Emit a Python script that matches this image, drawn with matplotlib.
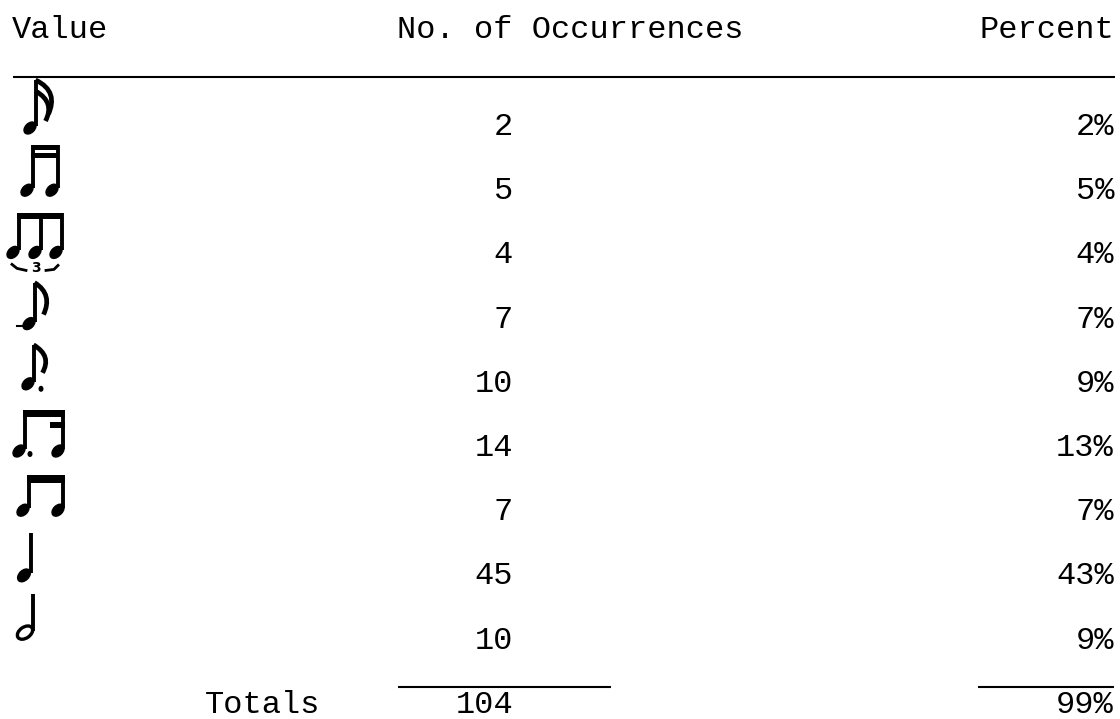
import matplotlib
matplotlib.use("Agg")
import matplotlib.pyplot as plt
from matplotlib.patches import Ellipse, Rectangle, PathPatch
from matplotlib.path import Path

# ---- data ----
note_values = ["sixteenth", "two sixteenths", "eighth triplet", "eighth",
               "dotted eighth", "dotted eighth + sixteenth", "two eighths",
               "quarter", "half"]
occurrences = [2, 5, 4, 7, 10, 14, 7, 45, 10]
percents = [2, 5, 4, 7, 9, 13, 7, 43, 9]
headers = ["Value", "No. of Occurrences", "Percent"]
totals_label = "Totals"

W, H = 1120, 719
fig = plt.figure(figsize=(W / 100, H / 100), dpi=100)
ax = fig.add_axes([0, 0, 1, 1])
ax.set_xlim(0, W)
ax.set_ylim(H, 0)
ax.axis("off")

FONT = "Liberation Mono"
FS = 23
K = "black"

# ---- layout ----
header_base = 38
row0 = 135
step = 64.2
count_right = 513
pct_right = 1114

ax.text(12, header_base, headers[0], family=FONT, fontsize=FS, ha="left", va="baseline")
ax.text(397, header_base, headers[1], family=FONT, fontsize=FS, ha="left", va="baseline")
ax.text(pct_right, header_base, headers[2], family=FONT, fontsize=FS, ha="right", va="baseline")
ax.plot([13, 1115], [77, 77], color=K, lw=1.5, solid_capstyle="butt")


# ---- glyph helpers ----
def head(x, y, filled=True, w=14, h=9.5, ang=-45):
    ax.add_patch(Ellipse((x, y), w, h, angle=ang, fc=K if filled else "white",
                         ec=K, lw=2.4 if not filled else 1))


def stem(x, y0, y1, lw=2.8):
    ax.plot([x, x], [y0, y1], color=K, lw=lw, solid_capstyle="butt")


def beam(x0, x1, y, t):
    ax.add_patch(Rectangle((x0, y), x1 - x0, t, fc=K, ec=K, lw=0))


def flag(x, ytop, length=30, bulge=13):
    verts = [(x, ytop), (x + bulge, ytop + 8), (x + bulge + 2, ytop + 0.6 * length),
             (x + bulge - 4, ytop + length)]
    codes = [Path.MOVETO, Path.CURVE4, Path.CURVE4, Path.CURVE4]
    ax.add_patch(PathPatch(Path(verts, codes), fc="none", ec=K, lw=3.4))


def dot(x, y, r=2.5):
    ax.add_patch(Ellipse((x, y), r * 2, r * 2.4, fc=K, ec=K, lw=0))


def draw_note(kind, yb):
    if kind == "sixteenth":
        head(30, yb - 7)
        stem(35.5, yb - 9, yb - 55)
        flag(35.5, yb - 55, 34, 17)
        flag(35.5, yb - 44, 30, 14)
    elif kind == "two sixteenths":
        head(27, yb - 9)
        head(52, yb - 9)
        stem(32.5, yb - 11, yb - 54)
        stem(57.5, yb - 11, yb - 54)
        beam(31, 59, yb - 54, 5)
        beam(31, 59, yb - 46, 5)
    elif kind == "eighth triplet":
        for hx in (13, 35, 56):
            head(hx, yb - 11)
            stem(hx + 5.5, yb - 13, yb - 50)
        beam(16.5, 63, yb - 50, 6)
        ax.plot([12, 17, 26], [yb + 1, yb + 5, yb + 7], color=K, lw=2)
        ax.plot([46, 54, 58], [yb + 7, yb + 6, yb + 2], color=K, lw=2)
        ax.text(36, yb + 5, "3", family="DejaVu Sans", fontsize=10,
                fontweight="bold", ha="center", va="center")
    elif kind == "eighth":
        head(29, yb - 4)
        ax.plot([17, 28], [yb - 2, yb - 2], color=K, lw=1.5)
        stem(34.5, yb - 6, yb - 45)
        flag(34.5, yb - 45, 32)
    elif kind == "dotted eighth":
        head(28, yb - 8)
        stem(33.5, yb - 10, yb - 47)
        flag(33.5, yb - 47, 28)
        dot(41, yb - 3)
    elif kind == "dotted eighth + sixteenth":
        head(19, yb - 5)
        head(58, yb - 5)
        stem(24.5, yb - 7, yb - 46)
        stem(63, yb - 7, yb - 46)
        beam(23, 64.5, yb - 46, 7)
        beam(50, 64.5, yb - 34, 6)
        dot(30, yb - 2)
    elif kind == "two eighths":
        head(23, yb - 10)
        head(58, yb - 10)
        stem(28.5, yb - 12, yb - 45)
        stem(63, yb - 12, yb - 45)
        beam(27, 64.5, yb - 45, 8)
    elif kind == "quarter":
        head(24, yb - 9, w=15, h=10)
        stem(30.5, yb - 11, yb - 51)
    elif kind == "half":
        head(25, yb - 16, filled=False, w=17, h=11, ang=-35)
        stem(32.5, yb - 18, yb - 55)


# ---- rows ----
for i, (kind, n, p) in enumerate(zip(note_values, occurrences, percents)):
    yb = row0 + i * step
    draw_note(kind, yb)
    ax.text(count_right, yb, str(n), family=FONT, fontsize=FS, ha="right", va="baseline")
    ax.text(pct_right, yb, f"{p}%", family=FONT, fontsize=FS, ha="right", va="baseline")

# ---- totals ----
yt = row0 + len(note_values) * step
ax.plot([398, 611], [687, 687], color=K, lw=1.5, solid_capstyle="butt")
ax.plot([978, 1114], [687, 687], color=K, lw=1.5, solid_capstyle="butt")
ax.text(205, yt, totals_label, family=FONT, fontsize=FS, ha="left", va="baseline")
ax.text(count_right, yt, str(sum(occurrences)), family=FONT, fontsize=FS, ha="right", va="baseline")
ax.text(pct_right, yt, f"{sum(percents)}%", family=FONT, fontsize=FS, ha="right", va="baseline")

fig.savefig("out.png", dpi=100, facecolor="white")
